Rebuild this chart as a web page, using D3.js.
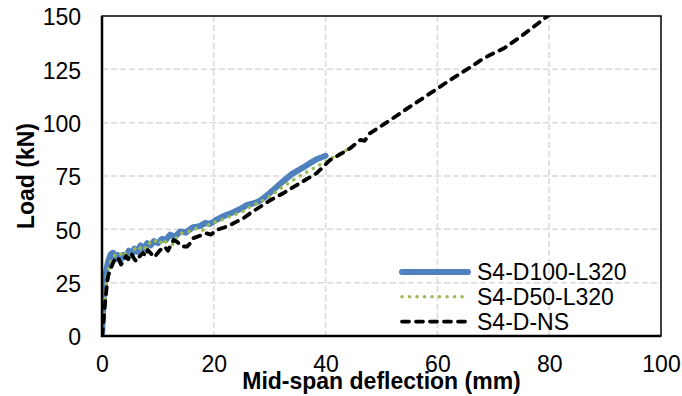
<!DOCTYPE html>
<html>
<head>
<meta charset="utf-8">
<script src="https://cdn.jsdelivr.net/npm/d3@7"></script>
<style>
  html, body { margin: 0; padding: 0; background: #fff; }
  svg { display: block; font-family: "Liberation Sans", Arial, sans-serif; }
</style>
</head>
<body>
<div id="chart"></div>
<script>
// series names (legend order)
const seriesNames = ['S4-D100-L320', 'S4-D50-L320', 'S4-D-NS'];

// [mid-span deflection (mm), load (kN)]
const d100L320 = [
  [0, 0], [0.2, 12], [0.4, 22], [0.7, 30], [1.1, 35], [1.6, 38.5], [2.0, 39], [2.4, 36],
  [2.8, 38], [3.3, 35.5], [3.8, 38], [4.3, 37], [4.8, 40], [5.3, 38], [5.8, 41], [6.3, 39.5],
  [6.9, 42.5], [7.5, 41], [8.1, 43.5], [8.7, 42.5], [9.3, 44.5], [10, 43.5], [10.7, 45.5],
  [11.4, 45], [12.2, 47.5], [13, 46.5], [14, 49], [15, 48.5], [16.3, 51], [17.5, 51.5],
  [18.5, 53], [19.3, 52.5], [20.5, 54.5], [22, 56.5], [23.5, 58], [24.7, 59.5], [26, 61.5],
  [27.5, 62.5], [28.3, 63.5], [30, 67], [32.4, 72.5], [34, 76], [36, 79], [37.2, 81],
  [38.5, 83], [40, 84.5]
];
const d50L320 = [
  [0, 0], [0.2, 6], [0.36, 12], [0.6, 20], [0.9, 28], [1.4, 34], [2, 37], [2.6, 38.5],
  [3.2, 39], [3.8, 37], [4.5, 39.5], [5.2, 38], [5.9, 41], [6.5, 40], [7.2, 42.5], [7.9, 41],
  [8.6, 44], [9.4, 45], [10.2, 43], [11, 45.5], [11.6, 43], [12.2, 40.5], [13, 45], [14, 48],
  [15.5, 49], [17, 50.5], [18, 49.5], [19.3, 52.8], [21, 54], [23.5, 56.7], [25, 58],
  [27, 61.4], [28.5, 63], [30, 65.5], [32.4, 70], [35, 74.5], [38.4, 79.4], [40.5, 82.5],
  [42.6, 85.6], [44, 87.5], [45.5, 89.5]
];
const dNS = [
  [0, 0], [0.2, 4.4], [0.5, 14], [0.8, 22], [1.07, 27.8], [1.4, 30.5], [1.7, 32.5], [2.1, 35],
  [2.6, 37], [3.0, 36], [3.4, 33.5], [3.8, 34.8], [4.3, 37.5], [4.7, 36], [5.2, 38.8],
  [5.8, 36], [6.2, 35], [6.7, 37.2], [7.3, 39], [7.8, 37.5], [8.2, 40.3], [8.8, 38.5],
  [9.2, 37], [9.7, 38], [10.4, 40.3], [11.2, 41.9], [11.8, 40], [12.8, 45], [13.5, 44],
  [14.2, 42], [15.2, 41.9], [15.8, 43.5], [16.3, 45.8], [17.5, 47], [18.7, 48.1], [19.5, 47.5],
  [20.5, 49.7], [22, 51], [22.9, 52], [24, 53.5], [25.3, 55.2], [26.5, 57.5], [28.3, 60.6],
  [30, 63.5], [32.4, 66.9], [35, 71], [38.4, 76.3], [40.8, 82.5], [42.5, 85], [44.4, 88],
  [46.2, 91.9], [47, 91.5], [47.9, 95], [50, 98.5], [52, 102], [55.1, 107.5], [58, 112.5],
  [60, 116], [62, 119.5], [65, 124.5], [68.2, 130], [69.4, 131.7], [72, 135], [75, 140.5],
  [78, 146.5], [80, 150.5]
];

const xTicks = [0, 20, 40, 60, 80, 100];
const yTicks = [0, 25, 50, 75, 100, 125, 150];

const margin = { top: 16, right: 21, bottom: 60, left: 102 };
const width = 682 - margin.left - margin.right;
const height = 396 - margin.top - margin.bottom;

const svg = d3.select('#chart')
  .append('svg')
  .attr('width', 682)
  .attr('height', 396);

const g = svg.append('g')
  .attr('transform', `translate(${margin.left},${margin.top})`);

const x = d3.scaleLinear().domain([0, 100]).range([0, width]);
const y = d3.scaleLinear().domain([0, 150]).range([height, 0]);

// dashed grid
g.selectAll('.vgrid')
  .data(xTicks.slice(1, -1))
  .enter().append('line')
  .attr('x1', d => x(d)).attr('x2', d => x(d))
  .attr('y1', 0).attr('y2', height)
  .attr('stroke', '#d9d9d9').attr('stroke-width', 1.5)
  .attr('stroke-dasharray', '6,3');

g.selectAll('.hgrid')
  .data(yTicks.slice(1, -1))
  .enter().append('line')
  .attr('x1', 0).attr('x2', width)
  .attr('y1', d => y(d)).attr('y2', d => y(d))
  .attr('stroke', '#d9d9d9').attr('stroke-width', 1.5)
  .attr('stroke-dasharray', '6,3');

// clip to plot area
svg.append('defs').append('clipPath').attr('id', 'plot-clip')
  .append('rect').attr('width', width).attr('height', height);

const line = d3.line().x(d => x(d[0])).y(d => y(d[1]));

const styles = [
  { color: '#4F81BD', width: 6, dash: null, cap: 'round' },
  { color: '#9BBB59', width: 3.5, dash: '0.1,7.4', cap: 'round' },
  { color: '#000000', width: 3.8, dash: '7,7', cap: 'round' }
];
const allSeries = [d100L320, d50L320, dNS];

const plot = g.append('g').attr('clip-path', 'url(#plot-clip)');
allSeries.forEach((s, i) => {
  plot.append('path')
    .datum(s)
    .attr('d', line)
    .attr('fill', 'none')
    .attr('stroke', styles[i].color)
    .attr('stroke-width', styles[i].width)
    .attr('stroke-dasharray', styles[i].dash)
    .attr('stroke-linecap', styles[i].cap)
    .attr('stroke-linejoin', 'round');
});

// plot border
g.append('rect')
  .attr('width', width).attr('height', height)
  .attr('fill', 'none').attr('stroke', '#000').attr('stroke-width', 1.5);
g.append('path')
  .attr('d', `M0,0V${height}H${width}`)
  .attr('fill', 'none').attr('stroke', '#000').attr('stroke-width', 2.5);

// axes (labels only)
const xAxis = g.append('g')
  .attr('transform', `translate(0,${height})`)
  .call(d3.axisBottom(x).tickValues(xTicks).tickSize(0).tickPadding(20));
const yAxis = g.append('g')
  .call(d3.axisLeft(y).tickValues(yTicks).tickSize(0).tickPadding(21));
[xAxis, yAxis].forEach(a => {
  a.select('.domain').remove();
  a.attr('font-size', 23).attr('font-family', '"Liberation Sans", Arial, sans-serif');
  a.selectAll('text').attr('fill', '#000');
});
yAxis.selectAll('text').attr('dy', '0.38em');

// axis titles
svg.append('text')
  .attr('x', margin.left + width / 2)
  .attr('y', 389)
  .attr('text-anchor', 'middle')
  .style('font-size', '23px')
  .style('font-weight', 'bold')
  .text('Mid-span deflection (mm)');

svg.append('text')
  .attr('transform', 'rotate(-90)')
  .attr('x', -176)
  .attr('y', 34)
  .attr('text-anchor', 'middle')
  .style('font-size', '23px')
  .style('font-weight', 'bold')
  .text('Load (kN)');

// legend
const legend = svg.append('g').attr('transform', 'translate(400,272)');
seriesNames.forEach((name, i) => {
  const row = legend.append('g').attr('transform', `translate(0,${i * 24.8})`);
  row.append('line')
    .attr('x1', 2).attr('x2', 68).attr('y1', 0).attr('y2', 0)
    .attr('stroke', styles[i].color)
    .attr('stroke-width', styles[i].width)
    .attr('stroke-dasharray', styles[i].dash)
    .attr('stroke-linecap', styles[i].cap);
  row.append('text')
    .attr('x', 77)
    .attr('y', 0)
    .attr('dy', '0.35em')
    .style('font-size', '23px')
    .text(name);
});
</script>
</body>
</html>
